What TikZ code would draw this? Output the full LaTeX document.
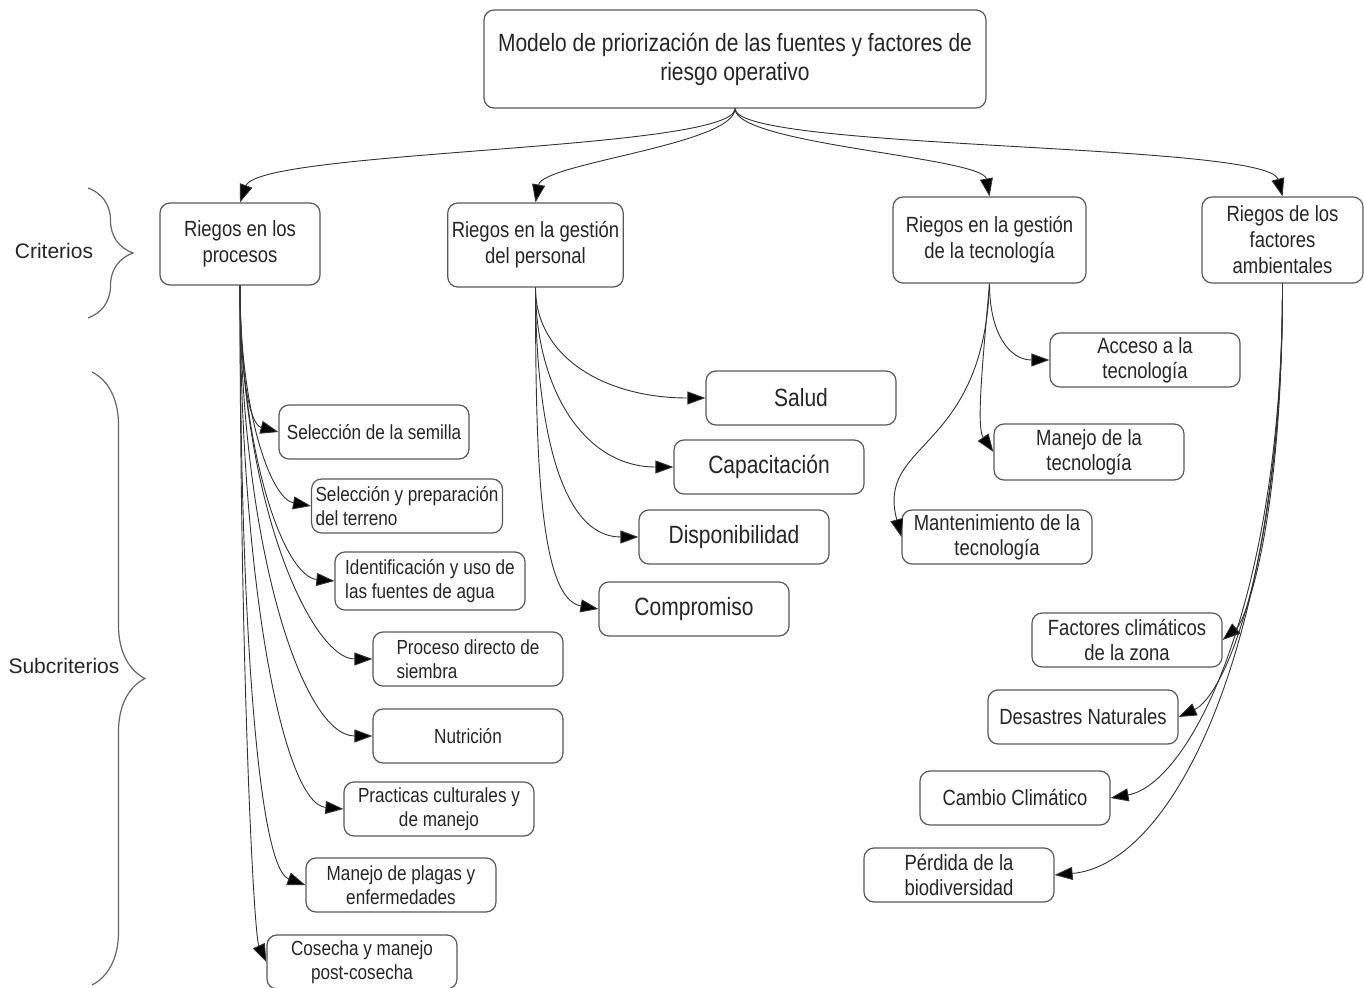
\documentclass[tikz,border=0pt]{standalone}
\usepackage{fontspec}
\setmainfont[FakeStretch=0.84]{Liberation Sans}
\newfontfamily\labelfont{Liberation Sans}
\usetikzlibrary{arrows.meta,decorations.pathreplacing}

\tikzset{
  box/.style={draw=black!65, rounded corners=5pt, line width=0.6pt, inner sep=2pt, align=center, text=black!85},
  critbox/.style={box, font=\fontsize{11}{13}\selectfont},
  leftbox/.style={box, minimum width=95pt, minimum height=27pt, font=\fontsize{10.2}{12}\selectfont},
  rightbox/.style={box, minimum width=95pt, minimum height=27pt, font=\fontsize{11}{12.5}\selectfont},
  bigbox/.style={box, minimum width=95pt, minimum height=27pt, font=\fontsize{12.5}{14}\selectfont},
  link/.style={draw=black!80, line width=0.45pt, -{Triangle[length=9pt,width=6.5pt,fill=black]}},
  curly/.style={draw=black!60, line width=0.6pt, decorate},
  lab/.style={font=\labelfont\fontsize{10.5}{12}\selectfont, text=black!85},
}

\begin{document}
\begin{tikzpicture}[x=0.5pt,y=0.5pt]
\useasboundingbox (0,0) rectangle (1364,-988);

% root
\node[box, minimum width=251pt, minimum height=49pt, font=\fontsize{12.5}{14.5}\selectfont] (model) at (735,-59)
  {Modelo de priorización de las fuentes y factores de\\riesgo operativo};

% criterios
\node[critbox, minimum width=80pt, minimum height=41pt] (proc) at (240,-244) {Riegos en los\\procesos};
\node[critbox, minimum width=87.5pt, minimum height=42pt] (pers) at (535.5,-245) {Riegos en la gestión\\del personal};
\node[critbox, minimum width=96.5pt, minimum height=43pt] (tecn) at (989.5,-240) {Riegos en la gestión\\de la tecnología};
\node[critbox, minimum width=80.5pt, minimum height=43pt] (amb) at (1282.5,-240) {Riegos de los\\factores\\ambientales};

\draw[link] (model.south) to[out=-90,in=70,out distance=21pt,in distance=28pt] (proc.north);
\draw[link] (model.south) to[out=-90,in=80,out distance=18pt,in distance=20pt] (pers.north);
\draw[link] (model.south) to[out=-90,in=100,out distance=18pt,in distance=20pt] (tecn.north);
\draw[link] (model.south) to[out=-90,in=105,out distance=21pt,in distance=28pt] (amb.north);

% subcriterios: procesos
\node[leftbox] (semilla) at (374,-432) {Selección de la semilla};
\node[leftbox, align=left] (terreno) at (407,-506) {Selección y preparación\\del terreno};
\node[leftbox, align=left, minimum height=29pt] (agua) at (430,-581) {Identificación y uso de\\las fuentes de agua};
\node[leftbox, align=left] (siembra) at (468,-659) {Proceso directo de\\siembra};
\node[leftbox] (nutri) at (468,-736) {Nutrición};
\node[leftbox] (practicas) at (439,-809) {Practicas culturales y\\de manejo};
\node[leftbox] (plagas) at (401,-885) {Manejo de plagas y\\enfermedades};
\node[leftbox] (cosecha) at (362,-962) {Cosecha y manejo\\post-cosecha};

\draw[link] (proc.south) to[out=-90,in=165,out distance=45pt,in distance=15pt] (semilla.west);
\draw[link] (proc.south) to[out=-90,in=170,out distance=65pt,in distance=20pt] (terreno.west);
\draw[link] (proc.south) to[out=-90,in=175,out distance=85pt,in distance=25pt] (agua.west);
\draw[link] (proc.south) to[out=-90,in=180,out distance=110pt,in distance=30pt] (siembra.west);
\draw[link] (proc.south) to[out=-90,in=180,out distance=130pt,in distance=35pt] (nutri.west);
\draw[link] (proc.south) to[out=-90,in=175,out distance=150pt,in distance=30pt] (practicas.west);
\draw[link] (proc.south) to[out=-90,in=160,out distance=170pt,in distance=25pt] (plagas.west);
\draw[link] (proc.south) to[out=-90,in=115,out distance=190pt,in distance=15pt] (cosecha.west);

% subcriterios: personal
\node[bigbox] (salud) at (801,-398) {Salud};
\node[bigbox] (capac) at (769,-467) {Capacitación};
\node[bigbox] (dispon) at (734,-537) {Disponibilidad};
\node[bigbox] (compr) at (694,-609) {Compromiso};

\draw[link] (pers.south) to[out=-90,in=180,out distance=35pt,in distance=50pt] (salud.west);
\draw[link] (pers.south) to[out=-90,in=180,out distance=50pt,in distance=45pt] (capac.west);
\draw[link] (pers.south) to[out=-90,in=180,out distance=65pt,in distance=40pt] (dispon.west);
\draw[link] (pers.south) to[out=-90,in=170,out distance=85pt,in distance=30pt] (compr.west);

% subcriterios: tecnologia
\node[rightbox] (acceso) at (1145,-360) {Acceso a la\\tecnología};
\node[rightbox, minimum height=28pt] (manejo) at (1089,-452) {Manejo de la\\tecnología};
\node[rightbox] (mant) at (997,-537) {Mantenimiento de la\\tecnología};

\draw[link] (tecn.south) to[out=-90,in=180,out distance=25pt,in distance=20pt] (acceso.west);
\draw[link] (tecn.south) to[out=-95,in=125,out distance=40pt,in distance=15pt] (manejo.west);
\draw[link] (tecn.south) to[out=-92,in=105,out distance=85pt,in distance=50pt] (mant.west);

% subcriterios: ambientales
\node[rightbox] (clima) at (1127,-640) {Factores climáticos\\de la zona};
\node[rightbox] (desastres) at (1083,-717) {Desastres Naturales};
\node[rightbox] (cambio) at (1015,-798) {Cambio Climático};
\node[rightbox] (biodiv) at (959,-875) {Pérdida de la\\biodiversidad};

\draw[link] (amb.south) to[out=-90,in=40,out distance=120pt,in distance=15pt] (clima.east);
\draw[link] (amb.south) to[out=-90,in=25,out distance=140pt,in distance=25pt] (desastres.east);
\draw[link] (amb.south) to[out=-90,in=10,out distance=160pt,in distance=40pt] (cambio.east);
\draw[link] (amb.south) to[out=-90,in=5,out distance=180pt,in distance=60pt] (biodiv.east);

% niveles
\draw[curly, decoration={brace,amplitude=22.5pt}] (88,-188) -- (88,-318);
\draw[curly, decoration={brace,amplitude=26.5pt}] (92,-372) -- (92,-985);
\node[lab] (crit) at (54,-251) {Criterios};
\node[lab] (subcrit) at (64,-666) {Subcriterios};
\end{tikzpicture}
\end{document}
